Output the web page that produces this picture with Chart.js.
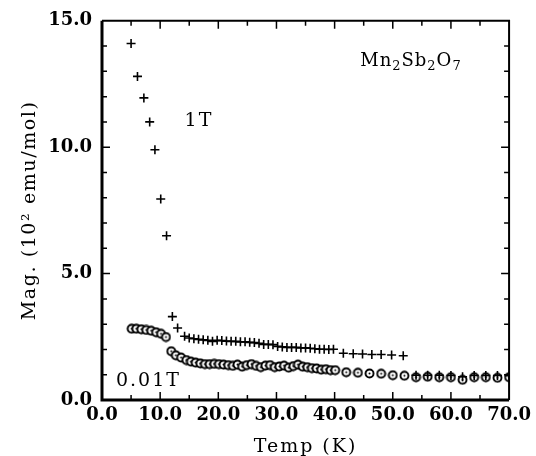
<!DOCTYPE html>
<html lang="en">
<head>
    <meta charset="UTF-8">
    <title>Mn2Sb2O7 magnetization</title>
    <script src="https://cdn.jsdelivr.net/npm/chart.js"></script>
    <style>
        body { margin: 0; background: #fff; }
        #wrap { width: 536px; height: 456px; }
    </style>
</head>
<body>
<div id="wrap"><canvas id="magChart" width="536" height="456"></canvas></div>
<script>
// temperatures (K) and magnetisation (10^2 emu/mol)
const temp1T = [5.0, 6.1, 7.2, 8.2, 9.1, 10.1, 11.1, 12.1, 13.0, 14.2,
    15.0, 15.8, 16.6, 17.4, 18.2, 19.0, 19.8, 20.6, 21.4, 22.2, 23.0, 23.8, 24.6, 25.4, 26.2,
    27.0, 27.8, 28.6, 29.4, 30.2, 31.0, 31.8, 32.6, 33.4, 34.2, 35.0, 35.8, 36.6, 37.4, 38.2,
    39.0, 39.8, 41.5, 43.2, 44.8, 46.4, 48.0, 49.8, 51.8,
    54, 56, 58, 60, 62, 64, 66, 68, 70];
const mag1T = [14.1, 12.8, 11.95, 11.0, 9.9, 7.95, 6.5, 3.3, 2.85, 2.52,
    2.45, 2.42, 2.40, 2.38, 2.36, 2.32, 2.36, 2.35, 2.33, 2.32, 2.32, 2.30, 2.30, 2.28, 2.27,
    2.24, 2.20, 2.20, 2.19, 2.12, 2.10, 2.08, 2.08, 2.08, 2.06, 2.06, 2.05, 2.03, 2.01, 2.01,
    2.00, 2.01, 1.85, 1.83, 1.82, 1.80, 1.80, 1.78, 1.75,
    0.98, 0.98, 0.98, 0.97, 0.92, 0.97, 0.97, 0.97, 0.96];

const temp001T = [5.1, 5.9, 6.75, 7.6, 8.45, 9.3, 10.15, 11.0, 11.9, 12.7, 13.6, 14.5,
    15.3, 16.1, 16.9, 17.7, 18.5, 19.3, 20.1, 20.9, 21.7, 22.5, 23.3, 24.1, 24.9, 25.7,
    26.5, 27.3, 28.1, 28.9, 29.7, 30.5, 31.3, 32.1, 32.9, 33.7, 34.5, 35.3, 36.1, 36.9,
    37.7, 38.5, 39.3, 40.1,
    42, 44, 46, 48, 50, 52, 54, 56, 58, 60, 62, 64, 66, 68, 70];
const mag001T = [2.82, 2.82, 2.80, 2.77, 2.74, 2.68, 2.62, 2.49, 1.93, 1.77, 1.68, 1.58,
    1.52, 1.48, 1.45, 1.42, 1.42, 1.43, 1.42, 1.40, 1.38, 1.35, 1.40, 1.32, 1.38, 1.42,
    1.35, 1.30, 1.36, 1.38, 1.30, 1.33, 1.36, 1.28, 1.34, 1.40, 1.32, 1.30, 1.26, 1.25,
    1.20, 1.22, 1.18, 1.18,
    1.10, 1.08, 1.05, 1.04, 0.98, 0.96, 0.90, 0.92, 0.90, 0.90, 0.80, 0.90, 0.90, 0.88, 0.90];

const xTicks = [0, 10, 20, 30, 40, 50, 60, 70];
const yTicks = [0, 5, 10, 15];

const serif = '"DejaVu Serif", serif';

// open circle with a dot in the middle
const ring = document.createElement('canvas');
ring.width = 11; ring.height = 11;
(function () {
    let c = ring.getContext('2d');
    c.fillStyle = '#fff';
    c.strokeStyle = '#000';
    c.lineWidth = 1.9;
    c.beginPath(); c.arc(5.5, 5.5, 4, 0, Math.PI * 2); c.fill(); c.stroke();
    c.fillStyle = '#000';
    c.beginPath(); c.arc(5.5, 5.5, 1, 0, Math.PI * 2); c.fill();
})();

function spaced(ctx, text, x, y, sp) {
    ctx.letterSpacing = sp + 'px';
    ctx.fillText(text, x, y);
    ctx.letterSpacing = '0px';
}

const framePlugin = {
    id: 'frame',
    afterDatasetsDraw(chart) {
        const {ctx, chartArea: a, scales: {x, y}} = chart;
        ctx.save();
        ctx.strokeStyle = '#000';
        // frame
        ctx.lineWidth = 3;
        ctx.beginPath();
        ctx.moveTo(a.left, a.top); ctx.lineTo(a.left, a.bottom); ctx.lineTo(a.right, a.bottom);
        ctx.stroke();
        ctx.lineWidth = 2;
        ctx.beginPath();
        ctx.moveTo(a.left, a.top); ctx.lineTo(a.right, a.top); ctx.lineTo(a.right, a.bottom);
        ctx.stroke();
        // inward ticks
        ctx.lineWidth = 1.5;
        ctx.beginPath();
        for (let v = 5; v < 70; v += 5) {
            let px = x.getPixelForValue(v);
            let len = v % 10 === 0 ? 8 : 5;
            ctx.moveTo(px, a.bottom); ctx.lineTo(px, a.bottom - len);
            ctx.moveTo(px, a.top); ctx.lineTo(px, a.top + len);
        }
        for (let v = 1; v < 15; v++) {
            let py = y.getPixelForValue(v);
            let len = v % 5 === 0 ? 8 : 5;
            ctx.moveTo(a.left, py); ctx.lineTo(a.left + len, py);
            ctx.moveTo(a.right, py); ctx.lineTo(a.right - len, py);
        }
        ctx.stroke();

        ctx.fillStyle = '#000';
        ctx.textBaseline = 'alphabetic';

        // axis titles
        ctx.font = '19px ' + serif;
        ctx.textAlign = 'center';
        spaced(ctx, 'Temp (K)', (a.left + a.right) / 2, 452, 2);
        ctx.save();
        ctx.translate(35, (a.top + a.bottom) / 2);
        ctx.rotate(-Math.PI / 2);
        spaced(ctx, 'Mag. (10\u00B2 emu/mol)', 0, 0, 1.6);
        ctx.restore();

        // annotations
        ctx.textAlign = 'left';
        ctx.font = '19px ' + serif;
        spaced(ctx, '1T', x.getPixelForValue(14.2), y.getPixelForValue(10.84), 2);
        spaced(ctx, '0.01T', x.getPixelForValue(2.4), y.getPixelForValue(0.55), 2);

        // Mn2Sb2O7 with subscripts
        let px = x.getPixelForValue(44.4), py = y.getPixelForValue(13.2);
        const parts = [['Mn', false], ['2', true], ['Sb', false], ['2', true], ['O', false], ['7', true]];
        parts.forEach(([t, sub]) => {
            ctx.font = (sub ? '13px ' : '18px ') + serif;
            ctx.letterSpacing = '1px';
            ctx.fillText(t, px, py + (sub ? 4 : 0));
            px += ctx.measureText(t).width;
        });
        ctx.letterSpacing = '0px';
        ctx.restore();
    }
};

new Chart(document.getElementById('magChart'), {
    type: 'scatter',
    data: {
        datasets: [{
            label: '1T',
            data: temp1T.map((t, i) => ({x: t, y: mag1T[i]})),
            pointStyle: 'cross',
            pointRadius: 4.5,
            borderColor: '#000',
            borderWidth: 1.6
        }, {
            label: '0.01T',
            data: temp001T.map((t, i) => ({x: t, y: mag001T[i]})),
            pointStyle: ring,
            pointRadius: 5
        }]
    },
    options: {
        responsive: false,
        animation: false,
        layout: { padding: { top: 18, right: 24, left: 0, bottom: 0 } },
        plugins: { legend: { display: false }, tooltip: { enabled: false } },
        scales: {
            x: {
                type: 'linear', min: 0, max: 70,
                afterBuildTicks: s => { s.ticks = xTicks.map(v => ({value: v})); },
                grid: { display: false, drawTicks: false },
                border: { display: false },
                ticks: { color: '#000', font: { family: serif, size: 18, weight: 'bold' }, padding: 5,
                    maxRotation: 0, callback: v => v.toFixed(1) },
                afterFit: s => { s.height = 56; }
            },
            y: {
                type: 'linear', min: 0, max: 15,
                afterBuildTicks: s => { s.ticks = yTicks.map(v => ({value: v})); },
                grid: { display: false, drawTicks: false },
                border: { display: false },
                ticks: { color: '#000', font: { family: serif, size: 18, weight: 'bold' }, padding: 10,
                    callback: v => v.toFixed(1) },
                afterFit: s => { s.width = 102; }
            }
        }
    },
    plugins: [framePlugin]
});
</script>
</body>
</html>
